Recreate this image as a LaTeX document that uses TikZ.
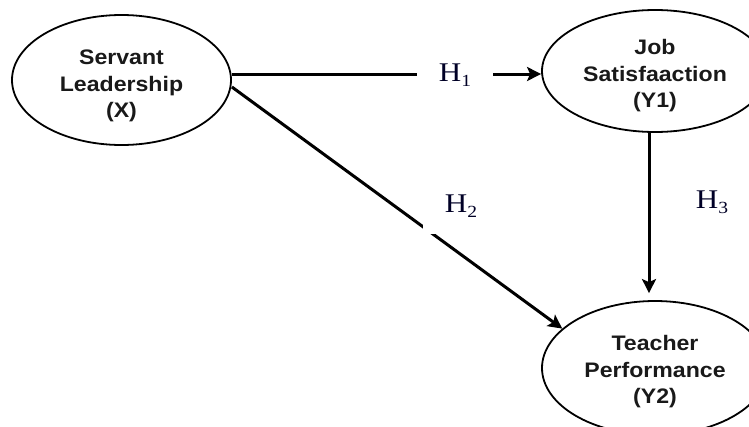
\documentclass[tikz,border=0pt]{standalone}
\usepackage{fontspec}
\usetikzlibrary{shapes.geometric,arrows.meta}
\newfontfamily\elfont[FakeStretch=1.1]{Liberation Sans}
\newfontfamily\hfont[FakeStretch=1.15]{Liberation Serif}
\newcommand{\hlab}[1]{{\hfont\fontsize{27}{27}\selectfont H\raisebox{-5pt}{\fontsize{17}{17}\selectfont #1}}}
\newcommand{\elines}[2]{\raisebox{-#1}[\height][\depth]{\begin{tabular}{@{}c@{}}#2\end{tabular}}}
\tikzset{
  construct/.style={ellipse, draw=black, line width=1.8pt, inner sep=0pt,
    font=\elfont\bfseries\fontsize{21}{26.5}\selectfont, text=black!90},
  path/.style={line width=3pt, -{Stealth[length=14pt,width=14pt,inset=3pt]}},
  hbox/.style={fill=white, inner sep=0pt, text=black!85!blue}
}
\begin{document}
\begin{tikzpicture}[x=1pt,y=-1pt]
\useasboundingbox (0,0) rectangle (749,426);
\node[construct, minimum width=219pt, minimum height=130pt] (X) at (121.5,80) {\elines{6pt}{Servant\\Leadership\\(X)}};
\node[construct, minimum width=226pt, minimum height=122pt] (Y1) at (655,71) {\elines{5pt}{Job\\Satisfaaction\\(Y1)}};
\node[construct, minimum width=226pt, minimum height=134pt] (Y2) at (655,368) {\elines{4pt}{Teacher\\Performance\\(Y2)}};
\draw[path] ([yshift=6pt]X.east) -- ([yshift=6pt]X.east -| Y1.west);
\draw[path] ([yshift=-7pt]X.east) -- (Y2.157);
\draw[path, shorten >=7pt] ([xshift=-6pt]Y1.south) -- ([xshift=-6pt]Y2.north);
\node[hbox, minimum width=76pt, minimum height=40pt] (h1) at (455,75) {\hlab{1}};
\node[hbox, minimum width=77pt, minimum height=56pt] (h2) at (461,206) {\hlab{2}};
\node[hbox, minimum width=60pt, minimum height=50pt] (h3) at (712,202) {\hlab{3}};
\end{tikzpicture}
\end{document}
